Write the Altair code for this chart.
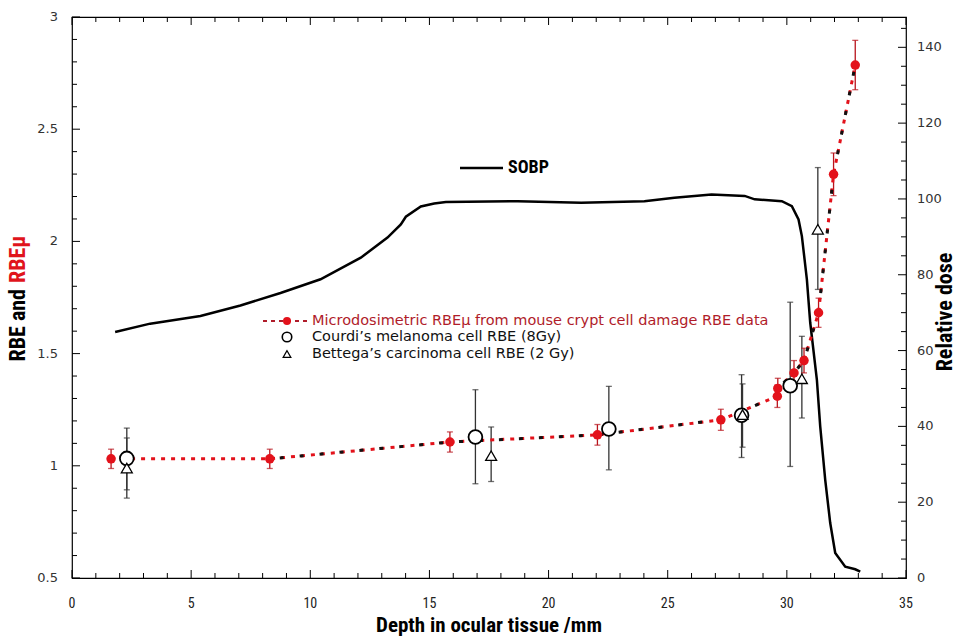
import altair as alt
import pandas as pd

W, H = 834, 561

# ---------------- data ----------------
# SOBP relative dose curve (right axis)
sobp_depth = [1.81, 3.28, 5.39, 7.07, 8.75, 10.43, 12.12, 13.24, 13.80, 14.01, 14.64, 15.20,
              15.69, 18.71, 21.37, 24.02, 25.28, 26.84, 28.23, 28.65, 29.79, 30.21, 30.49,
              30.63, 30.84, 30.98, 31.26, 31.40, 31.61, 31.82, 32.03, 32.45, 32.87, 33.08]
sobp_dose = [64.9, 67.1, 69.1, 71.9, 75.2, 78.8, 84.5, 89.8, 93.3, 95.3, 98.0, 98.8,
             99.2, 99.4, 99.0, 99.4, 100.3, 101.2, 100.8, 99.9, 99.4, 98.1, 94.6,
             90.2, 78.8, 67.4, 52.3, 40.0, 25.9, 14.5, 6.6, 3.0, 2.3, 1.7]

# Microdosimetric RBEmu (red)
mu_depth = [1.64, 8.30, 15.86, 22.05, 27.23, 29.60, 29.62, 30.30, 30.72, 31.33, 31.96, 32.87]
mu_rbe = [1.031, 1.031, 1.106, 1.138, 1.205, 1.310, 1.345, 1.414, 1.469, 1.682, 2.299, 2.786]
mu_err = [0.043, 0.043, 0.045, 0.046, 0.047, 0.050, 0.045, 0.055, 0.055, 0.065, 0.095, 0.110]

# Courdi's melanoma cell RBE (8Gy) - circles
co_depth = [2.30, 16.93, 22.53, 28.10, 30.14]
co_rbe = [1.033, 1.128, 1.164, 1.225, 1.357]
co_lo = [0.856, 0.920, 0.982, 1.037, 0.997]
co_hi = [1.168, 1.339, 1.354, 1.406, 1.729]

# Bettega's carcinoma cell RBE (2 Gy) - triangles
be_depth = [2.30, 17.59, 28.14, 30.63, 31.30]
be_rbe = [0.990, 1.045, 1.228, 1.388, 2.054]
be_lo = [0.893, 0.930, 1.083, 1.213, 1.786]
be_hi = [1.124, 1.173, 1.365, 1.577, 2.329]

# ticks and tick labels
x_major = [0, 5, 10, 15, 20, 25, 30, 35]
x_labels = ["0", "5", "10", "15", "20", "25", "30", "35"]
x_minor = [1, 2, 3, 4, 6, 7, 8, 9, 11, 12, 13, 14, 16, 17, 18, 19, 21, 22, 23, 24,
           26, 27, 28, 29, 31, 32, 33, 34]
yl_major = [0.5, 1.0, 1.5, 2.0, 2.5, 3.0]
yl_labels = ["0.5", "1", "1.5", "2", "2.5", "3"]
yl_minor = [0.6, 0.7, 0.8, 0.9, 1.1, 1.2, 1.3, 1.4, 1.6, 1.7, 1.8, 1.9, 2.1, 2.2, 2.3, 2.4,
            2.6, 2.7, 2.8, 2.9]
yr_major = [0, 20, 40, 60, 80, 100, 120, 140]
yr_labels = ["0", "20", "40", "60", "80", "100", "120", "140"]
yr_minor = [5, 10, 15, 25, 30, 35, 45, 50, 55, 65, 70, 75, 85, 90, 95, 105, 110, 115,
            125, 130, 135, 145]

# ---------------- styling ----------------
NARROW = "Roboto Condensed, Liberation Sans Narrow, Roboto, sans-serif"
VERD = "DejaVu Sans, Verdana, sans-serif"
RED = "#e3121b"
RED_BAR = "#b8141c"
RED_TXT = "#b01c2a"

x_scale = alt.Scale(domain=[0, 35], nice=False, zero=False)
yl_scale = alt.Scale(domain=[0.5, 3.0], nice=False, zero=False)
yr_scale = alt.Scale(domain=[0, 148], nice=False, zero=False)

df_sobp = pd.DataFrame({"depth": sobp_depth, "dose": sobp_dose})
df_mu = pd.DataFrame({"depth": mu_depth, "rbe": mu_rbe, "err": mu_err})
df_mu["lo"] = df_mu["rbe"] - df_mu["err"]
df_mu["hi"] = df_mu["rbe"] + df_mu["err"]
df_co = pd.DataFrame({"depth": co_depth, "rbe": co_rbe, "lo": co_lo, "hi": co_hi})
df_be = pd.DataFrame({"depth": be_depth, "rbe": be_rbe, "lo": be_lo, "hi": be_hi})
one = pd.DataFrame({"a": [0]})


def X(f="depth"):
    return alt.X(f + ":Q", scale=x_scale, axis=None)


def YL(f):
    return alt.Y(f + ":Q", scale=yl_scale, axis=None)


def YR(f):
    return alt.Y(f + ":Q", scale=yr_scale, axis=None)


# ---------------- right group: SOBP + right axis ----------------
r_layers = [
    alt.Chart(df_sobp).mark_line(color="black", strokeWidth=2.5).encode(
        x=X(), y=YR("dose"), order="depth:Q"),
    alt.Chart(pd.DataFrame({"t": yr_major})).mark_rule(color="black").encode(
        y=YR("t"), x=alt.value(W), x2=alt.value(W - 8)),
    alt.Chart(pd.DataFrame({"t": yr_minor})).mark_rule(color="black").encode(
        y=YR("t"), x=alt.value(W), x2=alt.value(W - 5)),
    alt.Chart(pd.DataFrame({"t": yr_major, "lab": yr_labels})).mark_text(
        font=VERD, fontSize=13, align="left", baseline="middle", color="#333").encode(
        y=YR("t"), x=alt.value(W + 11), text="lab:N"),
]
right_group = alt.layer(*r_layers)

# ---------------- left group: RBE ----------------
def bars(df, color, cap=6):
    r = alt.Chart(df).mark_rule(color=color, strokeWidth=1.3).encode(
        x=X(), y=YL("lo"), y2="hi:Q")
    t1 = alt.Chart(df).mark_tick(color=color, orient="horizontal", size=cap, thickness=1.3).encode(
        x=X(), y=YL("lo"))
    t2 = alt.Chart(df).mark_tick(color=color, orient="horizontal", size=cap, thickness=1.3).encode(
        x=X(), y=YL("hi"))
    return [r, t1, t2]


l_layers = []
# left ticks + labels
l_layers += [alt.Chart(pd.DataFrame({"t": yl_major})).mark_rule(color="black").encode(
    y=YL("t"), x=alt.value(0), x2=alt.value(8))]
l_layers += [alt.Chart(pd.DataFrame({"t": yl_minor})).mark_rule(color="black").encode(
    y=YL("t"), x=alt.value(0), x2=alt.value(5))]
l_layers += [alt.Chart(pd.DataFrame({"t": yl_major, "lab": yl_labels})).mark_text(
    font=VERD, fontSize=13, align="right", baseline="middle", color="#333").encode(
    y=YL("t"), x=alt.value(-14), text="lab:N")]
# bottom/top ticks + labels
for vals, L in ((x_major, 8), (x_minor, 5)):
    d = pd.DataFrame({"t": vals})
    l_layers += [alt.Chart(d).mark_rule(color="black").encode(
        x=X("t"), y=alt.value(H), y2=alt.value(H - L))]
    l_layers += [alt.Chart(d).mark_rule(color="black").encode(
        x=X("t"), y=alt.value(0), y2=alt.value(L))]
l_layers += [alt.Chart(pd.DataFrame({"t": x_major, "lab": x_labels})).mark_text(
    font=NARROW, fontSize=14, align="center", baseline="middle", color="#222").encode(
    x=X("t"), y=alt.value(H + 26), text="lab:N")]

l_layers += bars(df_co, "#333")
l_layers += bars(df_be, "#333")
l_layers += bars(df_mu, RED_BAR)

l_layers += [alt.Chart(df_mu).mark_line(color=RED, strokeWidth=3, strokeDash=[4, 6]).encode(
    x=X(), y=YL("rbe"), order="depth:Q")]
l_layers += [alt.Chart(df_mu.iloc[1:]).mark_line(color="#111", strokeWidth=3, strokeDash=[4, 16],
                                                 strokeDashOffset=10).encode(
    x=X(), y=YL("rbe"), order="depth:Q")]
l_layers += [alt.Chart(df_mu).mark_point(filled=True, color=RED, size=90, opacity=1).encode(
    x=X(), y=YL("rbe"))]
l_layers += [alt.Chart(df_co).mark_point(shape="circle", filled=True, fill="white", stroke="black",
                                         strokeWidth=1.8, size=190, opacity=1).encode(
    x=X(), y=YL("rbe"))]
l_layers += [alt.Chart(df_be).mark_point(shape="triangle-up", filled=True, fill="white", stroke="black",
                                         strokeWidth=1.3, size=120, opacity=1).encode(
    x=X(), y=YL("rbe"))]

# ---- legend (inside plot) ----
LX_SYM, LX_TXT = 215, 240
l_layers += [alt.Chart(one).mark_rule(color=RED_TXT, strokeWidth=2, strokeDash=[4, 4]).encode(
    x=alt.value(191), x2=alt.value(237), y=alt.value(304))]
l_layers += [alt.Chart(one).mark_point(filled=True, color=RED, size=64, opacity=1).encode(
    x=alt.value(LX_SYM), y=alt.value(304))]
l_layers += [alt.Chart(one).mark_point(shape="circle", filled=True, fill="white", stroke="black",
                                       strokeWidth=1.6, size=90, opacity=1).encode(
    x=alt.value(LX_SYM), y=alt.value(320))]
l_layers += [alt.Chart(one).mark_point(shape="triangle-up", filled=True, fill="white", stroke="black",
                                       strokeWidth=1.2, size=60, opacity=1).encode(
    x=alt.value(LX_SYM), y=alt.value(337))]
leg_texts = [
    ("Microdosimetric RBE\u03bc from mouse crypt cell damage RBE data", 304, RED_TXT),
    ("Courdi\u2019s melanoma cell RBE (8Gy)", 320, "#111"),
    ("Bettega\u2019s carcinoma cell RBE (2 Gy)", 337, "#111"),
]
for txt, yy, col in leg_texts:
    l_layers += [alt.Chart(one).mark_text(font=VERD, fontSize=14.5, align="left", baseline="middle",
                                          color=col).encode(
        x=alt.value(LX_TXT), y=alt.value(yy), text=alt.value(txt))]

# SOBP legend
l_layers += [alt.Chart(one).mark_rule(color="black", strokeWidth=2.5).encode(
    x=alt.value(388), x2=alt.value(431), y=alt.value(151))]
l_layers += [alt.Chart(one).mark_text(font=NARROW, fontSize=18, fontWeight="bold", align="left",
                                      baseline="middle", color="black").encode(
    x=alt.value(436), y=alt.value(151), text=alt.value("SOBP"))]

# ---- axis titles ----
l_layers += [alt.Chart(one).mark_text(font=NARROW, fontSize=21, fontWeight="bold", align="center",
                                      baseline="middle", color="black").encode(
    x=alt.value(W / 2), y=alt.value(609), text=alt.value("Depth in ocular tissue /mm"))]
l_layers += [alt.Chart(one).mark_text(font=NARROW, fontSize=22, fontWeight="bold", align="center",
                                      baseline="middle", angle=270, color="black").encode(
    x=alt.value(873), y=alt.value(295), text=alt.value("Relative dose"))]
l_layers += [alt.Chart(one).mark_text(font=NARROW, fontSize=22, fontWeight="bold", align="right",
                                      baseline="middle", angle=270, color="black").encode(
    x=alt.value(-54), y=alt.value(272), text=alt.value("RBE and"))]
l_layers += [alt.Chart(one).mark_text(font=NARROW, fontSize=22, fontWeight="bold", align="left",
                                      baseline="middle", angle=270, color="#e0141c").encode(
    x=alt.value(-54), y=alt.value(266), text=alt.value("RBE\u03bc"))]

left_group = alt.layer(*l_layers)

chart = alt.layer(right_group, left_group).resolve_scale(y="independent").properties(
    width=W, height=H,
    autosize=alt.AutoSizeParams(type="none"),
    padding={"left": 72, "top": 17, "right": 56, "bottom": 61},
    background="white",
).configure_view(stroke="black", strokeWidth=1.2)

chart.save("out.html", embed_options={"renderer": "svg", "actions": False})
